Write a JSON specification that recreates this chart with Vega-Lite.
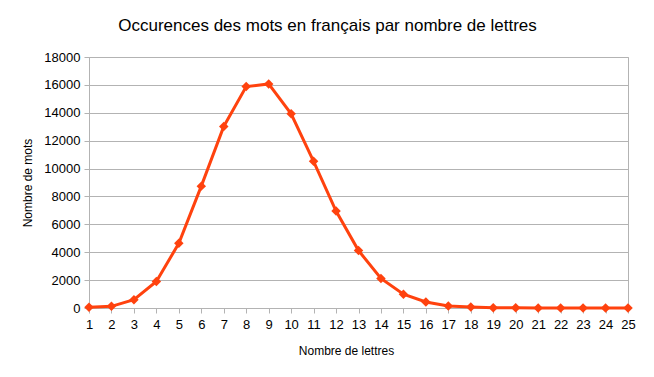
{
  "$schema": "https://vega.github.io/schema/vega-lite/v6.json",
  "autosize": "none",
  "width": 539,
  "height": 251,
  "padding": {"left": 89, "top": 57, "right": 26, "bottom": 69},
  "background": "white",
  "config": {
    "font": "Liberation Sans",
    "view": {"stroke": "#b3b3b3", "strokeWidth": 1}
  },
  "title": {
    "text": "Occurences des mots en français par nombre de lettres",
    "fontSize": 17,
    "fontWeight": "normal",
    "color": "#000000",
    "font": "Liberation Sans",
    "anchor": "middle",
    "frame": "group",
    "dx": -31,
    "offset": 16
  },
  "data": {
    "values": [
      {"lettres": 1, "mots": 50},
      {"lettres": 2, "mots": 120},
      {"lettres": 3, "mots": 600},
      {"lettres": 4, "mots": 1900},
      {"lettres": 5, "mots": 4640},
      {"lettres": 6, "mots": 8740},
      {"lettres": 7, "mots": 13020},
      {"lettres": 8, "mots": 15880},
      {"lettres": 9, "mots": 16070},
      {"lettres": 10, "mots": 13930},
      {"lettres": 11, "mots": 10520},
      {"lettres": 12, "mots": 6950},
      {"lettres": 13, "mots": 4120},
      {"lettres": 14, "mots": 2120},
      {"lettres": 15, "mots": 990},
      {"lettres": 16, "mots": 430},
      {"lettres": 17, "mots": 145},
      {"lettres": 18, "mots": 70},
      {"lettres": 19, "mots": 20},
      {"lettres": 20, "mots": 10},
      {"lettres": 21, "mots": 5},
      {"lettres": 22, "mots": 3},
      {"lettres": 23, "mots": 2},
      {"lettres": 24, "mots": 1},
      {"lettres": 25, "mots": 1}
    ]
  },
  "encoding": {
    "x": {
      "field": "lettres",
      "type": "quantitative",
      "scale": {"domain": [1, 25], "nice": false, "zero": false},
      "axis": {
        "title": "Nombre de lettres",
        "titleFontSize": 12,
        "titleFontWeight": "normal",
        "titleColor": "#000000",
        "titlePadding": 14,
        "titleX": 257,
        "titleAnchor": "middle",
        "values": [1,2,3,4,5,6,7,8,9,10,11,12,13,14,15,16,17,18,19,20,21,22,23,24,25],
        "format": "d",
        "labelFontSize": 13,
        "labelColor": "#000000",
        "labelPadding": 5,
        "labelFlush": false,
        "labelOverlap": false,
        "grid": false,
        "domainColor": "#b3b3b3",
        "tickColor": "#b3b3b3",
        "tickSize": 5
      }
    },
    "y": {
      "field": "mots",
      "type": "quantitative",
      "scale": {"domain": [0, 18000], "nice": false},
      "axis": {
        "title": "Nombre de mots",
        "titleFontSize": 12,
        "titleFontWeight": "normal",
        "titleColor": "#000000",
        "titlePadding": 9,
        "values": [0, 2000, 4000, 6000, 8000, 10000, 12000, 14000, 16000, 18000],
        "format": "d",
        "labelFontSize": 13,
        "labelColor": "#000000",
        "labelPadding": 4,
        "labelFlush": false,
        "labelOverlap": false,
        "grid": true,
        "gridColor": "#b3b3b3",
        "domainColor": "#b3b3b3",
        "tickColor": "#b3b3b3",
        "tickSize": 5
      }
    }
  },
  "layer": [
    {
      "mark": {"type": "line", "color": "#ff420e", "strokeWidth": 3}
    },
    {
      "mark": {"type": "point", "shape": "diamond", "filled": true, "color": "#ff420e", "opacity": 1, "size": 90}
    }
  ]
}
